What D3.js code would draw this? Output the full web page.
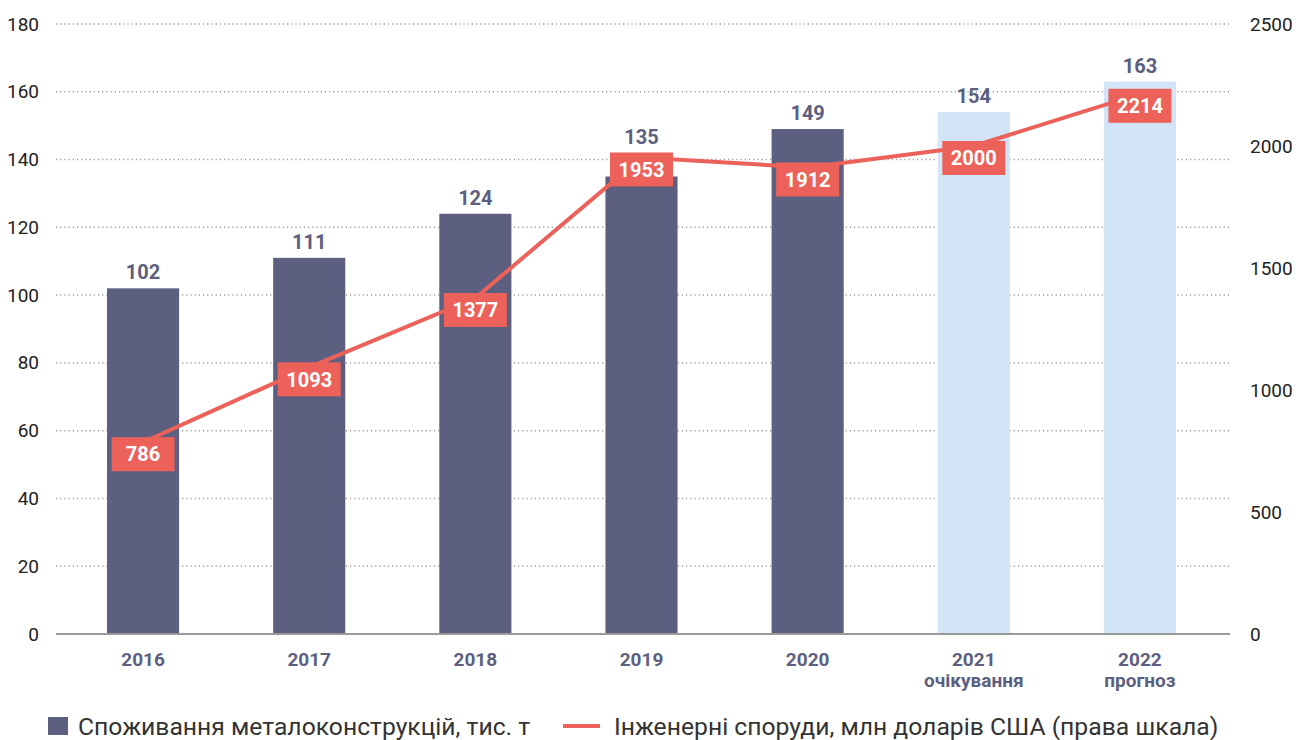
<!DOCTYPE html>
<html>
<head>
<meta charset="utf-8">
<script src="https://cdn.jsdelivr.net/npm/d3@7"></script>
<style>
  body { margin: 0; background: #fff; }
  svg { font-family: Roboto, "Noto Sans", sans-serif; }
</style>
</head>
<body>
<svg id="chart" width="1305" height="740"></svg>
<script>
const years = ['2016', '2017', '2018', '2019', '2020', '2021', '2022'];
const subLabels = ['', '', '', '', '', 'очікування', 'прогноз'];
const consumption = [102, 111, 124, 135, 149, 154, 163];
const isForecast = [false, false, false, false, false, true, true];
const structures = [786, 1093, 1377, 1953, 1912, 2000, 2214];
const leftTicks = [0, 20, 40, 60, 80, 100, 120, 140, 160, 180];
const rightTicks = [0, 500, 1000, 1500, 2000, 2500];
const legendLabels = ['Споживання металоконструкцій, тис. т', 'Інженерні споруди, млн доларів США (права шкала)'];

const barColor = '#5c5f7f';
const lightColor = '#d2e4f5';
const red = '#ec625a';

const svg = d3.select('#chart');
const data = years.map((y, i) => ({
  year: y, sub: subLabels[i], value: consumption[i], forecast: isForecast[i], eng: structures[i]
}));

const x = d3.scaleBand()
  .domain(years)
  .range([60, 1223])
  .paddingInner(0.566)
  .paddingOuter(0.283);

const y = d3.scaleLinear().domain([0, 180]).range([634, 24]);
const y2 = d3.scaleLinear().domain([0, 2500]).range([634, 24]);

const cx = d => x(d.year) + x.bandwidth() / 2;

// label boxes on the line
const boxW = 63, boxH = 34, boxOffset = 12;
const boxTop = d => y2(d.eng) + boxOffset - boxH / 2;

// grid
svg.append('g')
  .selectAll('line')
  .data(leftTicks.slice(1))
  .join('line')
  .attr('x1', 56).attr('x2', 1231)
  .attr('y1', d => y(d)).attr('y2', d => y(d))
  .attr('stroke', '#9a9a9a')
  .attr('stroke-width', 1.5)
  .attr('stroke-dasharray', '1.2,3');

// left axis labels
svg.append('g')
  .attr('transform', 'translate(39,0)')
  .call(d3.axisLeft(y).tickValues(leftTicks).tickSize(0).tickPadding(0))
  .call(g => g.select('.domain').remove())
  .call(g => g.selectAll('text').attr('font-size', 19).attr('fill', '#222').attr('font-family', 'Roboto'));

// right axis labels
svg.append('g')
  .attr('transform', 'translate(1250,0)')
  .call(d3.axisRight(y2).tickValues(rightTicks).tickFormat(d3.format('d')).tickSize(0).tickPadding(0))
  .call(g => g.select('.domain').remove())
  .call(g => g.selectAll('text').attr('font-size', 19).attr('fill', '#222').attr('font-family', 'Roboto'));

// bars
svg.append('g')
  .selectAll('rect')
  .data(data)
  .join('rect')
  .attr('x', d => x(d.year))
  .attr('y', d => y(d.value))
  .attr('width', x.bandwidth())
  .attr('height', d => y(0) - y(d.value))
  .attr('fill', d => d.forecast ? lightColor : barColor);

// baseline
svg.append('line')
  .attr('x1', 56).attr('x2', 1230)
  .attr('y1', y(0)).attr('y2', y(0))
  .attr('stroke', '#9a9a9a')
  .attr('stroke-width', 2);

// bar value labels (lifted above the red box where they would collide)
svg.append('g')
  .selectAll('text')
  .data(data)
  .join('text')
  .attr('x', cx)
  .attr('y', d => {
    const top = y(d.value);
    const bt = boxTop(d);
    if (top > bt - 22 && top < bt + boxH + 20) return Math.min(top - 9, bt - 8);
    return top - 9;
  })
  .attr('text-anchor', 'middle')
  .attr('font-size', 20)
  .attr('font-weight', 'bold')
  .attr('fill', barColor)
  .text(d => d.value);

// x labels
const xl = svg.append('g')
  .selectAll('text')
  .data(data)
  .join('text')
  .attr('x', cx)
  .attr('y', 666)
  .attr('text-anchor', 'middle')
  .attr('font-size', 19)
  .attr('font-weight', 'bold')
  .attr('fill', barColor);
xl.append('tspan').text(d => d.year);
xl.append('tspan')
  .attr('x', cx)
  .attr('dy', 21)
  .text(d => d.sub);

// line
const line = d3.line()
  .x(cx)
  .y(d => y2(d.eng));

svg.append('path')
  .datum(data)
  .attr('fill', 'none')
  .attr('stroke', red)
  .attr('stroke-width', 4)
  .attr('d', line);

const lb = svg.append('g')
  .selectAll('g')
  .data(data)
  .join('g')
  .attr('transform', d => `translate(${cx(d)},${y2(d.eng) + boxOffset})`);
lb.append('rect')
  .attr('x', -boxW / 2).attr('y', -boxH / 2)
  .attr('width', boxW).attr('height', boxH)
  .attr('fill', red);
lb.append('text')
  .attr('text-anchor', 'middle')
  .attr('dy', '0.36em')
  .attr('font-size', 20)
  .attr('font-weight', 'bold')
  .attr('fill', '#fff')
  .text(d => d.eng);

// legend
const legend = svg.append('g').attr('font-size', 24.7).attr('fill', '#333');
legend.append('rect')
  .attr('x', 48).attr('y', 717)
  .attr('width', 20).attr('height', 18)
  .attr('fill', barColor);
legend.append('text')
  .attr('x', 78).attr('y', 735)
  .text(legendLabels[0]);
legend.append('line')
  .attr('x1', 563).attr('x2', 600)
  .attr('y1', 726).attr('y2', 726)
  .attr('stroke', red)
  .attr('stroke-width', 4);
legend.append('text')
  .attr('x', 614).attr('y', 735)
  .text(legendLabels[1]);
</script>
</body>
</html>
